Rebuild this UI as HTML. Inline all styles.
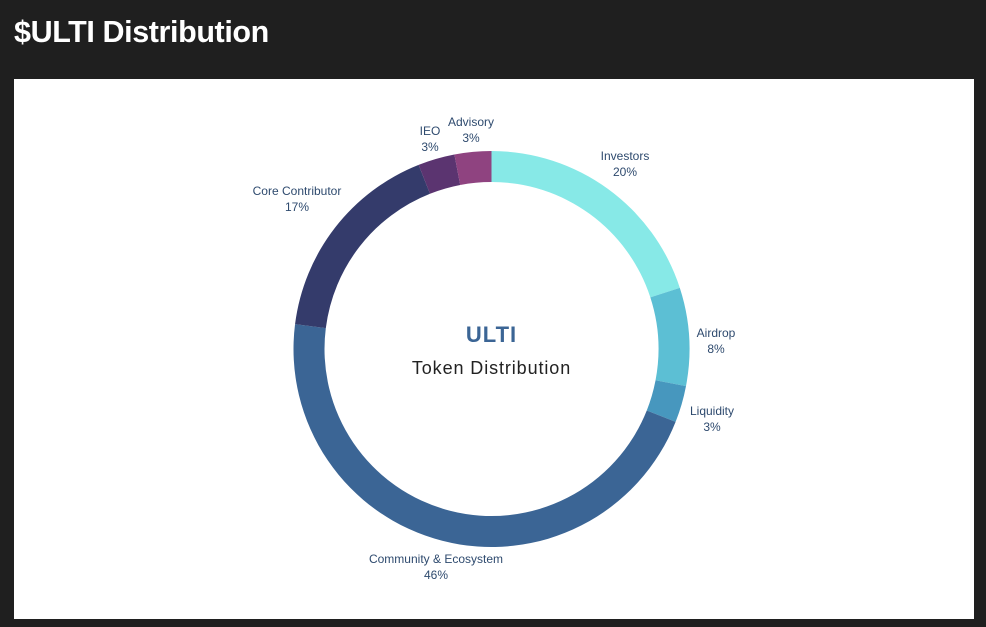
<!DOCTYPE html>
<html><head><meta charset="utf-8"><style>
body{margin:0;width:986px;height:627px;background:#1f1f1f;overflow:hidden;font-family:"Liberation Sans",sans-serif}
h1{position:absolute;left:14px;top:15px;margin:0;color:#fff;font-size:30.5px;font-weight:bold;letter-spacing:-0.4px}
#panel{position:absolute;left:14px;top:79px;width:960px;height:540px;background:#fff}
</style></head><body>
<h1>$ULTI Distribution</h1>
<div id="panel">
<svg id="chart" width="960" height="540"></svg>
</div>
<script>
const categories=["Investors","Airdrop","Liquidity","Community & Ecosystem","Core Contributor","IEO","Advisory"];
const values=[20,8,3,46,17,3,3];
const colors=["#87e9e7","#5cbfd4","#4797be","#3b6595","#343b6b","#5b3470","#8f4380"];
const labelPos=[[611,81],[702,258],[698,336],[422,484],[283,116],[416,56],[457,47]];
const svg=document.getElementById('chart');
const NS="http://www.w3.org/2000/svg";
const cx=477.5,cy=270,R=198,r=167;
const total=values.reduce((a,b)=>a+b,0);
function pt(a,rad){return [cx+rad*Math.sin(a),cy-rad*Math.cos(a)];}
let acc=0;
values.forEach((v,i)=>{
  const a0=acc/total*2*Math.PI; acc+=v; const a1=acc/total*2*Math.PI;
  const lg=(a1-a0)>Math.PI?1:0;
  const [x0,y0]=pt(a0,R),[x1,y1]=pt(a1,R),[x2,y2]=pt(a1,r),[x3,y3]=pt(a0,r);
  const p=document.createElementNS(NS,'path');
  p.setAttribute('d',`M${x0},${y0}A${R},${R} 0 ${lg} 1 ${x1},${y1}L${x2},${y2}A${r},${r} 0 ${lg} 0 ${x3},${y3}Z`);
  p.setAttribute('fill',colors[i]);
  
  
  svg.appendChild(p);
  const [lx,ly]=labelPos[i];
  const t=document.createElementNS(NS,'text');
  t.setAttribute('x',lx);t.setAttribute('y',ly);t.setAttribute('text-anchor','middle');
  t.setAttribute('font-size','12');t.setAttribute('fill','#2e4a6e');
  
  
  const s1=document.createElementNS(NS,'tspan');s1.setAttribute('x',lx);s1.textContent=categories[i];
  const s2=document.createElementNS(NS,'tspan');s2.setAttribute('x',lx);s2.setAttribute('dy','16');s2.textContent=v+'%';
  t.appendChild(s1);t.appendChild(s2);svg.appendChild(t);
});
const c1=document.createElementNS(NS,'text');
c1.setAttribute('x',cx);c1.setAttribute('y',263);c1.setAttribute('text-anchor','middle');
c1.setAttribute('font-size','22');c1.setAttribute('font-weight','bold');c1.setAttribute('fill','#3b6595');c1.setAttribute('letter-spacing','1');


c1.textContent='ULTI';svg.appendChild(c1);
const c2=document.createElementNS(NS,'text');
c2.setAttribute('x',cx);c2.setAttribute('y',295);c2.setAttribute('text-anchor','middle');
c2.setAttribute('font-size','18');c2.setAttribute('fill','#222');c2.setAttribute('letter-spacing','0.9');


c2.textContent='Token Distribution';svg.appendChild(c2);
</script>
</body></html>
